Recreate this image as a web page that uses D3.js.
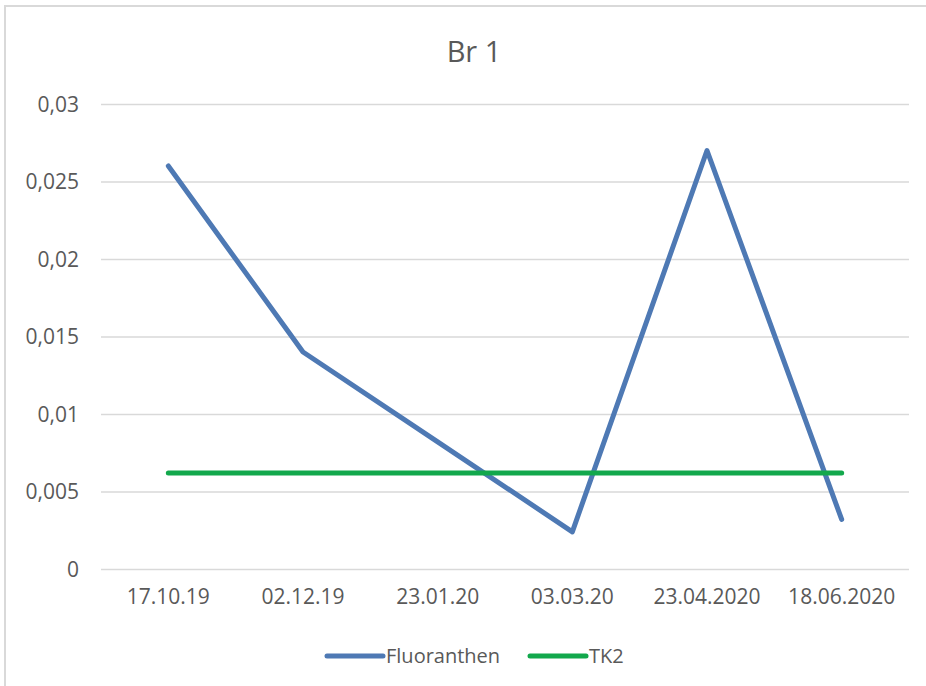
<!DOCTYPE html>
<html>
<head>
<meta charset="utf-8">
<script src="https://cdn.jsdelivr.net/npm/d3@7"></script>
<style>
  html, body { margin: 0; padding: 0; background: #fff; }
  svg { display: block; }
  text { font-family: "Open Sans", "Noto Sans", sans-serif; fill: #595959; }
</style>
</head>
<body>
<svg id="chart" width="926" height="686"></svg>
<script>
// Sampling dates (category axis)
const categories = ["17.10.19", "02.12.19", "23.01.20", "03.03.20", "23.04.2020", "18.06.2020"];
// Measured Fluoranthen concentration per date
const fluoranthen = [0.026, 0.014, 0.0082, 0.0024, 0.027, 0.0032];
// TK2 threshold, constant for every date
const tk2 = [0.0062, 0.0062, 0.0062, 0.0062, 0.0062, 0.0062];
// Value-axis ticks
const yTicks = [0, 0.005, 0.01, 0.015, 0.02, 0.025, 0.03];
const chartTitle = "Br 1";
const seriesNames = ["Fluoranthen", "TK2"];

const W = 926, H = 686;
const margin = { left: 101, right: 17, top: 104, bottom: 117 };
const colors = { Fluoranthen: "#4e79b4", TK2: "#12a84c" };

const svg = d3.select("#chart");

// Chart frame (top and left edges visible)
svg.append("path")
  .attr("d", `M5,${H} V6 H${W}`)
  .attr("fill", "none")
  .attr("stroke", "#d9d9d9")
  .attr("stroke-width", 2);

const x = d3.scaleBand()
  .domain(categories)
  .range([margin.left, W - margin.right]);

const y = d3.scaleLinear()
  .domain([0, 0.03])
  .range([H - margin.bottom, margin.top]);

const fmt = v => v === 0 ? "0" : String(+v.toFixed(3)).replace(".", ",");

// Horizontal gridlines with value labels
const yAxis = d3.axisLeft(y)
  .tickValues(yTicks)
  .tickSize(-(W - margin.left - margin.right))
  .tickPadding(22)
  .tickFormat(fmt);

const gy = svg.append("g")
  .attr("transform", `translate(${margin.left},0)`)
  .call(yAxis);
gy.select(".domain").remove();
gy.selectAll(".tick line").attr("stroke", "#d9d9d9").attr("stroke-width", 1.5);
gy.selectAll(".tick text")
  .style("font-size", "21px")
  .attr("dy", "0.35em");

// Category labels
const xAxis = d3.axisBottom(x).tickSize(0).tickPadding(20);
const gx = svg.append("g")
  .attr("transform", `translate(0,${H - margin.bottom})`)
  .call(xAxis);
gx.select(".domain").remove();
gx.selectAll(".tick text").style("font-size", "21px");

// Series lines
const line = d3.line()
  .x((d, i) => x(categories[i]) + x.bandwidth() / 2)
  .y(d => y(d));

const series = [
  { name: seriesNames[0], values: fluoranthen },
  { name: seriesNames[1], values: tk2 }
];

svg.append("g").selectAll("path")
  .data(series)
  .join("path")
  .attr("d", d => line(d.values))
  .attr("fill", "none")
  .attr("stroke", d => colors[d.name])
  .attr("stroke-width", 5)
  .attr("stroke-linejoin", "round")
  .attr("stroke-linecap", "round");

// Title
svg.append("text")
  .attr("x", (margin.left + W - margin.right) / 2 - 31)
  .attr("y", 62)
  .attr("text-anchor", "middle")
  .style("font-size", "29px")
  .text(chartTitle);

// Legend
const legendY = 656;
const legendItems = [
  { name: seriesNames[0], x0: 327 },
  { name: seriesNames[1], x0: 530 }
];
const lg = svg.append("g");
legendItems.forEach(item => {
  lg.append("line")
    .attr("x1", item.x0).attr("x2", item.x0 + 56)
    .attr("y1", legendY).attr("y2", legendY)
    .attr("stroke", colors[item.name])
    .attr("stroke-width", 5)
    .attr("stroke-linecap", "round");
  lg.append("text")
    .attr("x", item.x0 + 59)
    .attr("y", legendY)
    .attr("dy", "0.35em")
    .style("font-size", "20px")
    .text(item.name);
});
</script>
</body>
</html>
